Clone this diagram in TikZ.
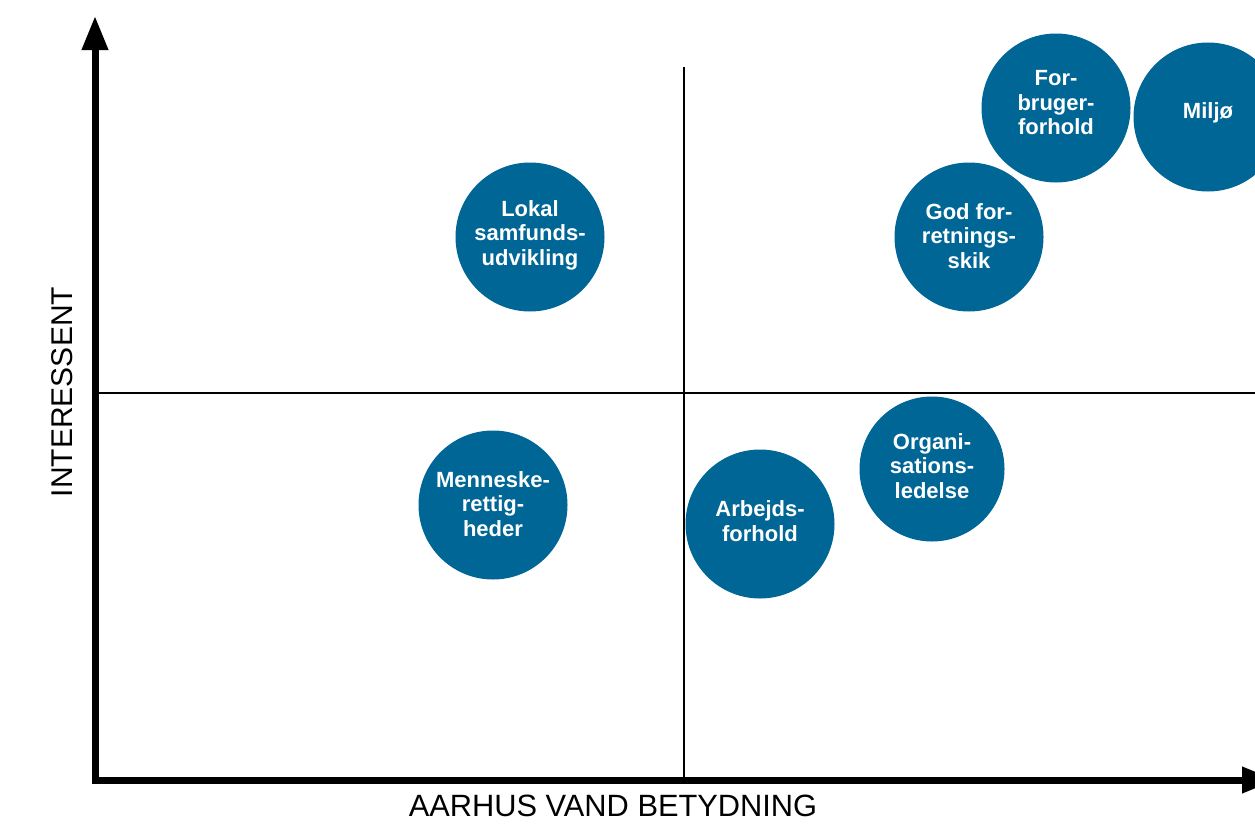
\documentclass[tikz,border=0pt]{standalone}
\usepackage{fontspec}
\setmainfont{Liberation Sans}
\usetikzlibrary{arrows.meta}
\definecolor{bluec}{RGB}{0,102,150}
\begin{document}
\begin{tikzpicture}[x=1pt,y=-1pt,
  bubble/.style={circle,fill=bluec,inner sep=0pt,minimum size=149pt},
  btext/.style={text=white,align=center,inner sep=0pt,
    font=\fontsize{22}{24.5}\selectfont\bfseries},
  axislabel/.style={inner sep=0pt,font=\fontsize{30}{36}\selectfont},
  axisline/.style={line width=7pt,line join=miter,
    {Triangle[width=25pt,length=34pt]}-{Triangle[width=25pt,length=34pt]}},
  quadline/.style={line width=2.6pt}]
\useasboundingbox (0,0) rectangle (1255,827);
\clip (0,0) rectangle (1255,827);
% quadrant lines
\coordinate (vtop) at (684,67);
\coordinate (vbot) at (684,780);
\coordinate (hleft) at (95,393);
\coordinate (hright) at (1256,393);
\draw[quadline] (vtop) -- (vbot);
\draw[quadline] (hleft) -- (hright);
% axes
\coordinate (ytip) at (95,16);
\coordinate (origin) at (95,780);
\coordinate (xtip) at (1276,780);
\draw[axisline] (ytip) -- (origin) -- (xtip);
% axis labels
\node[axislabel,font=\fontsize{30.8}{36}\selectfont] (xlab) at (613,806) {AARHUS VAND BETYDNING};
\node[axislabel,rotate=90] (ylab) at (62,392) {INTERESSENT};
% bubbles
\node[bubble] (lokal) at (530,237) {};
\node[btext] (lokalt) at (530,235) {Lokal\\samfunds-\\udvikling};
\node[bubble] (menn) at (493,505) {};
\node[btext] (mennt) at (493,504) {Menneske-\\rettig-\\heder};
\node[bubble] (arb) at (760,524) {};
\node[btext] (arbt) at (760,521) {Arbejds-\\forhold};
\node[bubble,minimum size=145pt] (org) at (932,469) {};
\node[btext] (orgt) at (932,466) {Organi-\\sations-\\ledelse};
\node[bubble] (god) at (969,237) {};
\node[btext] (godt) at (969,236) {God for-\\retnings-\\skik};
\node[bubble] (forb) at (1056,108) {};
\node[btext] (forbt) at (1056,103) {For-\\bruger-\\forhold};
\node[bubble] (milj) at (1208,117) {};
\node[btext] (miljt) at (1208,113) {Miljø};
\end{tikzpicture}
\end{document}
